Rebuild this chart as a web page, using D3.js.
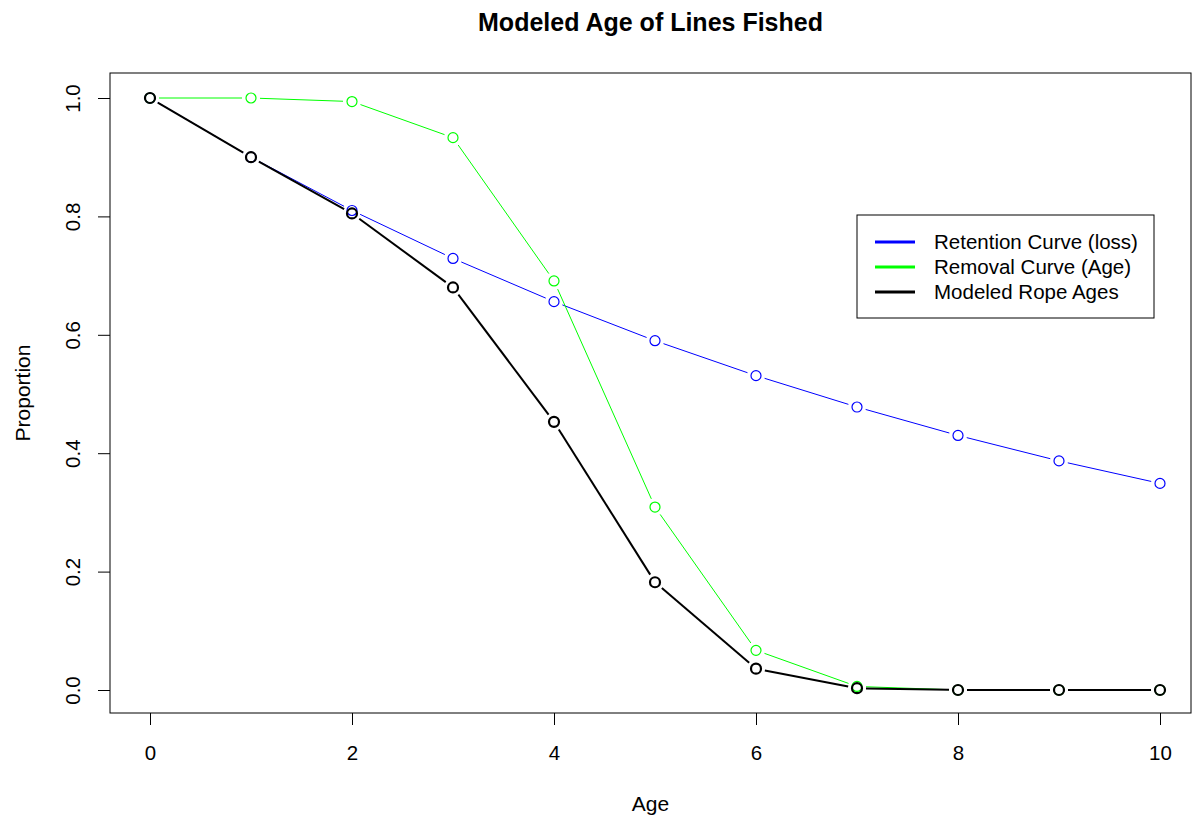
<!DOCTYPE html>
<html>
<head>
<meta charset="utf-8">
<script src="https://cdn.jsdelivr.net/npm/d3@7"></script>
<style>
  body { margin: 0; background: #fff; }
  svg { font-family: "Liberation Sans", Arial, sans-serif; }
</style>
</head>
<body>
<svg id="chart" width="1193" height="820"></svg>
<script>
var ages = [0, 1, 2, 3, 4, 5, 6, 7, 8, 9, 10];
var retention = [1.0, 0.9, 0.81, 0.729, 0.656, 0.59, 0.531, 0.478, 0.43, 0.387, 0.349];
var removal = [1.0, 1.0, 0.994, 0.933, 0.691, 0.309, 0.067, 0.006, 0.0, 0.0, 0.0];
var modeled = [1.0, 0.9, 0.805, 0.680, 0.453, 0.182, 0.036, 0.003, 0.0, 0.0, 0.0];
var xTicks = [0, 2, 4, 6, 8, 10];
var yTicks = [0.0, 0.2, 0.4, 0.6, 0.8, 1.0];

var series = [
    { name: "Retention Curve (loss)", values: retention, color: "#0000ff", lwd: 1 },
    { name: "Removal Curve (Age)", values: removal, color: "#00ff00", lwd: 1 },
    { name: "Modeled Rope Ages", values: modeled, color: "#000000", lwd: 2 }
];

var svg = d3.select("#chart");
var box = { left: 110, right: 1191, top: 73, bottom: 713 };

var x = d3.scaleLinear().domain([0, 10]).range([150, 1160]);
var y = d3.scaleLinear().domain([0, 1]).range([690, 98]);

// title
svg.append("text")
    .attr("x", (box.left + box.right) / 2)
    .attr("y", 31)
    .attr("text-anchor", "middle")
    .style("font-size", "25px")
    .style("font-weight", "bold")
    .text("Modeled Age of Lines Fished");

// axes
var xAxis = svg.append("g")
    .attr("transform", "translate(0," + box.bottom + ")")
    .call(d3.axisBottom(x).tickValues(xTicks).tickSize(12).tickPadding(20).tickFormat(d3.format("d")));
var yAxis = svg.append("g")
    .attr("transform", "translate(" + box.left + ",0)")
    .call(d3.axisLeft(y).tickValues(yTicks).tickSize(12).tickFormat(d3.format(".1f")));
[xAxis, yAxis].forEach(function(a) {
    a.select(".domain").remove();
    a.selectAll("line").attr("stroke", "#000");
    a.selectAll("text").style("font-size", "20.5px").attr("fill", "#000").style("font-family", "inherit");
});
yAxis.selectAll(".tick text")
    .attr("x", 0).attr("dy", 0)
    .attr("text-anchor", "middle")
    .attr("transform", "translate(-30,0) rotate(-90)");

svg.append("rect")
    .attr("x", box.left).attr("y", box.top)
    .attr("width", box.right - box.left).attr("height", box.bottom - box.top)
    .attr("fill", "none").attr("stroke", "#000").attr("stroke-width", 1);

// axis titles
svg.append("text")
    .attr("x", (box.left + box.right) / 2).attr("y", 811)
    .attr("text-anchor", "middle").style("font-size", "21px")
    .text("Age");
svg.append("text")
    .attr("transform", "translate(30," + ((box.top + box.bottom) / 2) + ") rotate(-90)")
    .attr("text-anchor", "middle").style("font-size", "21px")
    .text("Proportion");

// type = "b": segments with gaps at points
var r = 5, gap = 9;
series.forEach(function(s) {
    var g = svg.append("g");
    var pts = ages.map(function(a, i) { return [x(a), y(s.values[i])]; });
    var segs = d3.pairs(pts).map(function(p) {
        var dx = p[1][0] - p[0][0], dy = p[1][1] - p[0][1];
        var len = Math.sqrt(dx * dx + dy * dy);
        if (len <= 2 * gap) return null;
        var ux = dx / len, uy = dy / len;
        return [p[0][0] + ux * gap, p[0][1] + uy * gap, p[1][0] - ux * gap, p[1][1] - uy * gap];
    }).filter(function(d) { return d; });
    g.selectAll("line").data(segs).enter().append("line")
        .attr("x1", function(d) { return d[0]; }).attr("y1", function(d) { return d[1]; })
        .attr("x2", function(d) { return d[2]; }).attr("y2", function(d) { return d[3]; })
        .attr("stroke", s.color).attr("stroke-width", s.lwd);
    g.selectAll("circle").data(pts).enter().append("circle")
        .attr("cx", function(d) { return d[0]; }).attr("cy", function(d) { return d[1]; })
        .attr("r", r)
        .attr("fill", "none").attr("stroke", s.color).attr("stroke-width", s.lwd + 0.2);
});

// legend
var leg = svg.append("g").attr("transform", "translate(857,215)");
leg.append("rect").attr("width", 297).attr("height", 103)
    .attr("fill", "#fff").attr("stroke", "#000");
series.forEach(function(s, i) {
    var yy = 27 + i * 25;
    leg.append("line").attr("x1", 18).attr("x2", 58).attr("y1", yy).attr("y2", yy)
        .attr("stroke", s.color).attr("stroke-width", 3);
    leg.append("text").attr("x", 77).attr("y", yy + 7)
        .style("font-size", "20.5px").text(s.name);
});
</script>
</body>
</html>
